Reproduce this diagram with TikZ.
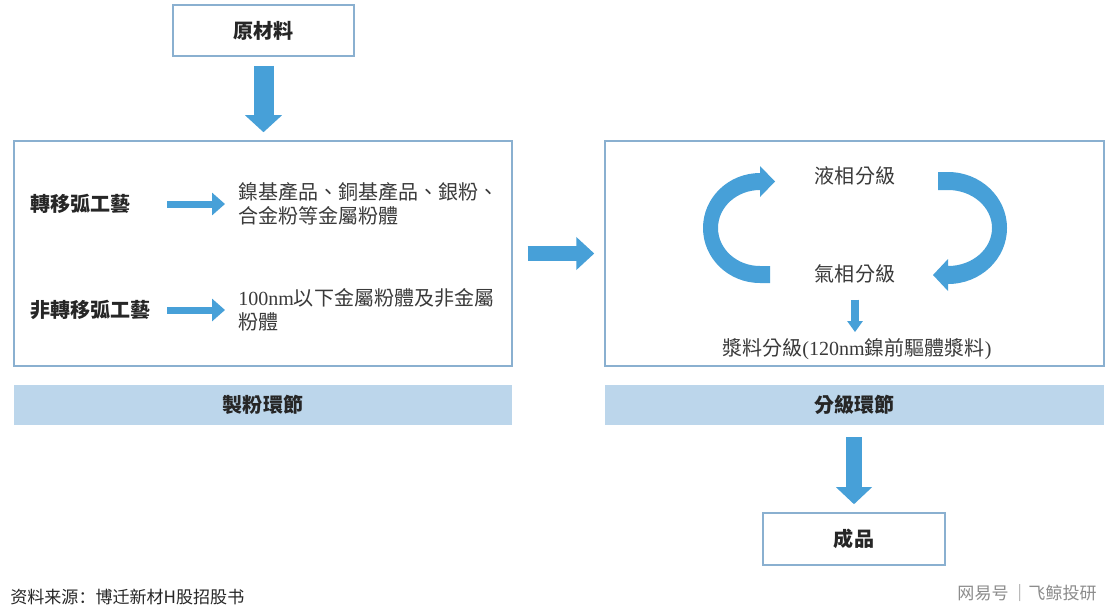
\documentclass[tikz,border=0pt]{standalone}
\usepackage{fontspec}
\setmainfont{Liberation Serif}
\newfontfamily\cjk{Noto Sans CJK TC}
\newfontfamily\cjksc{Noto Sans CJK SC}
\usetikzlibrary{arrows.meta}

\definecolor{arrowblue}{HTML}{47A0D8}
\definecolor{boxline}{HTML}{8AB0D0}
\definecolor{barfill}{HTML}{BCD6EB}
\definecolor{txtgray}{HTML}{3A3A3A}

\tikzset{
	box/.style={draw=boxline, line width=0.9pt, fill=white, inner sep=0pt},
	bar/.style={fill=barfill, inner sep=0pt, minimum width=9.96cm, minimum height=0.8cm, text=black!85, font=\cjk\bfseries\fontsize{11.4}{13.7}\selectfont},
	label/.style={inner sep=0pt, text=black!85, font=\cjk\bfseries\fontsize{11.4}{13.7}\selectfont},
	txt/.style={inner sep=0pt, align=left, text=txtgray, font=\cjk\fontsize{11.4}{13.7}\selectfont},
	fatarrow/.style n args={3}{draw=arrowblue, line width=#1, -{Triangle[width=#2,length=#3]}},
	curlarrow/.style={fill=arrowblue}
}

\begin{document}
\begin{tikzpicture}[x=0.02cm, y=-0.02cm]
		\fill[white] (0,0) rectangle (1114,613);
		
		% the boxes
		\node[box, label, minimum width=3.62cm, minimum height=1.02cm] (raw) at (263.5,30.5) {原材料};
		\node[box, minimum width=9.96cm, minimum height=4.5cm] (powderbox) at (263,253.5) {};
		\node[box, minimum width=9.98cm, minimum height=4.5cm] (classbox) at (854.5,253.5) {};
		\node[box, label, minimum width=3.64cm, minimum height=1.04cm] (product) at (854,539) {成品};
		% the two stage bars
		\node[bar] (powderbar) at (263,405) {製粉環節};
		\node[bar, minimum width=9.98cm] (classbar) at (854.5,405) {分級環節};
		
		% inside the powder box
		\node[label, anchor=west] (arc1) at (30,204) {轉移弧工藝};
		\node[label, anchor=west] (arc2) at (30,310) {非轉移弧工藝};
		\node[txt, anchor=west] (out1) at (238,204) {鎳基產品、銅基產品、銀粉、\\合金粉等金屬粉體};
		\node[txt, anchor=west] (out2) at (238,310) {{\rmfamily 100nm}以下金屬粉體及非金屬\\粉體};
		
		% inside the classification box
		\node[txt] (liquid) at (855,176) {液相分級};
		\node[txt] (gas) at (855,274) {氣相分級};
		\node[txt] (slurry) at (857,349) {漿料分級{\rmfamily(120nm}鎳前驅體漿料{\rmfamily)}};
		
		% the block arrows
		\draw[fatarrow={0.4cm}{0.72cm}{0.34cm}] ([yshift=-0.18cm]raw.south) -- ([yshift=0.16cm]raw.south |- powderbox.north);
		\draw[fatarrow={0.3cm}{0.64cm}{0.36cm}] ([xshift=0.3cm]powderbox.east) -- ([xshift=-0.2cm]classbox.west);
		\draw[fatarrow={0.32cm}{0.7cm}{0.34cm}] ([yshift=-0.24cm]product.north |- classbar.south) -- ([yshift=0.16cm]product.north);
		\draw[fatarrow={0.14cm}{0.44cm}{0.26cm}] ([xshift=-1.42cm]out1.west) -- ([xshift=-0.26cm]out1.west);
		\draw[fatarrow={0.14cm}{0.44cm}{0.26cm}] ([xshift=-1.42cm]out2.west) -- ([xshift=-0.26cm]out2.west);
		\draw[fatarrow={0.16cm}{0.3cm}{0.22cm}] ([yshift=-0.32cm]gas.south) -- ([yshift=0.12cm]gas.south |- slurry.north);
		
		% the curled arrows
		\fill[curlarrow] (770,283) -- (760,283) arc[start angle=90, end angle=270, x radius=57, y radius=55]
		-- (760,166) -- (775,181.5) -- (760,197) -- (760,190)
		arc[start angle=270, end angle=90, x radius=42, y radius=38] -- (770,266) -- cycle;
		\fill[curlarrow] (938,172) -- (948,172) arc[start angle=270, end angle=450, x radius=59, y radius=56]
		-- (948,291) -- (933,275) -- (948,259) -- (948,266)
		arc[start angle=90, end angle=-90, x radius=44, y radius=38] -- (938,190) -- cycle;
		
		% source and watermark
		\node[inner sep=0pt, anchor=west, text=black!85, font=\cjksc\fontsize{9.7}{12}\selectfont] (source) at (10,597) {资料来源：博迁新材H股招股书};
		\node[inner sep=0pt, anchor=east, text=black!45, font=\cjksc\fontsize{9.7}{12}\selectfont] (mark) at (1097,593) {网易号\,｜飞鲸投研};
	\end{tikzpicture}
\end{document}
